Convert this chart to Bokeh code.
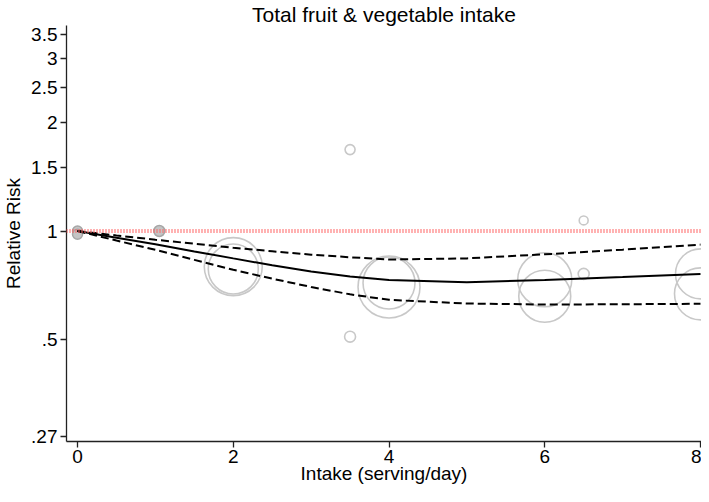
from bokeh.plotting import figure
from bokeh.models import Range1d, FixedTicker, ColumnDataSource, Span
from bokeh.embed import file_html
from bokeh.resources import INLINE
import math

# ---- data ----
title_text = "Total fruit & vegetable intake"
x_label = "Intake (serving/day)"
y_label = "Relative Risk"

x_ticks = [0, 2, 4, 6, 8]
y_ticks = [0.27, 0.5, 1, 1.5, 2, 2.5, 3, 3.5]
y_tick_labels = [".27", ".5", "1", "1.5", "2", "2.5", "3", "3.5"]

# fitted dose-response curve and 95% CI
curve_x = [0, 0.5, 1, 1.5, 2, 2.5, 3, 3.5, 4, 5, 6, 7, 8]
rr_fit = [1.0, 0.958, 0.919, 0.878, 0.840, 0.804, 0.773, 0.748, 0.732, 0.722, 0.732, 0.746, 0.761]
rr_lower = [1.0, 0.941, 0.887, 0.832, 0.781, 0.738, 0.700, 0.668, 0.645, 0.630, 0.626, 0.627, 0.629]
rr_upper = [1.0, 0.972, 0.946, 0.922, 0.899, 0.879, 0.860, 0.846, 0.834, 0.840, 0.862, 0.888, 0.917]

# study-specific estimates (open circles), weight ~ circle area
study_x = [2, 2, 3.5, 3.5, 4, 4, 6, 6, 6.5, 6.5, 8, 8]
study_rr = [0.797, 0.785, 1.68, 0.51, 0.700, 0.718, 0.733, 0.660, 1.07, 0.761, 0.761, 0.670]
study_weight = [33.6, 25.0, 1.0, 1.2, 38.4, 27.0, 29.2, 27.0, 0.8, 1.2, 25.0, 27.0]

# reference-category estimates (filled circles)
ref_x = [0, 0, 1.05]
ref_rr = [1.0, 0.98, 1.0]
ref_weight = [1.0, 1.0, 1.2]

FONT = "Liberation Sans"

p = figure(width=701, height=486,
           x_range=Range1d(-0.1416, 8.013),
           y_range=Range1d(0.2615, 3.705),
           y_axis_type="log",
           output_backend="svg", toolbar_location=None,
           title=title_text,
           min_border_left=59, min_border_right=0,
           min_border_top=0, min_border_bottom=0)

p.background_fill_color = "white"
p.border_fill_color = "white"
p.outline_line_color = None
p.xgrid.visible = False
p.ygrid.visible = False

p.title.align = "center"
p.title.text_font = FONT
p.title.text_font_size = "21px"
p.title.text_font_style = "normal"
p.title.text_color = "#000000"
p.title.standoff = 0

for ax in (p.xaxis[0], p.yaxis[0]):
    ax.axis_line_color = "#222222"
    ax.axis_line_width = 1.3
    ax.major_tick_line_color = "#222222"
    ax.major_tick_line_width = 1.3
    ax.major_tick_in = 0
    ax.major_tick_out = 6
    ax.minor_tick_line_color = None
    ax.major_label_text_font = FONT
    ax.major_label_text_font_size = "19px"
    ax.major_label_text_color = "#000000"
    ax.axis_label_text_font = FONT
    ax.axis_label_text_font_size = "19px"
    ax.axis_label_text_font_style = "normal"
    ax.axis_label_text_color = "#000000"

p.xaxis.ticker = FixedTicker(ticks=x_ticks)
p.xaxis.axis_label = x_label
p.xaxis.major_label_standoff = 2
p.xaxis.axis_label_standoff = -3
p.yaxis.ticker = FixedTicker(ticks=y_ticks, minor_ticks=[])
p.yaxis.major_label_overrides = {t: lab for t, lab in zip(y_ticks, y_tick_labels)}
p.yaxis.axis_label = y_label
p.yaxis.major_label_standoff = 3
p.yaxis.axis_label_standoff = 4

# reference line RR = 1
p.add_layout(Span(location=1, dimension="width", line_color="#ff6464",
                  line_width=4, line_dash="1 2"))

# circles
src_ref = ColumnDataSource(dict(x=ref_x, y=ref_rr,
                                s=[10 * math.sqrt(w) for w in ref_weight]))
p.scatter("x", "y", size="s", source=src_ref, marker="circle",
          fill_color="#c4c4c4", line_color="#a6a6a6", line_width=1.5)

src_st = ColumnDataSource(dict(x=study_x, y=study_rr,
                               s=[10 * math.sqrt(w) for w in study_weight]))
p.scatter("x", "y", size="s", source=src_st, marker="circle",
          fill_color=None, line_color="#c8c8c8", line_width=1.6)

# curves
p.line(curve_x, rr_lower, line_color="#000000", line_width=2, line_dash="8 4")
p.line(curve_x, rr_upper, line_color="#000000", line_width=2, line_dash="8 4")
p.line(curve_x, rr_fit, line_color="#000000", line_width=2)

open("out.html", "w").write(file_html(p, INLINE))
